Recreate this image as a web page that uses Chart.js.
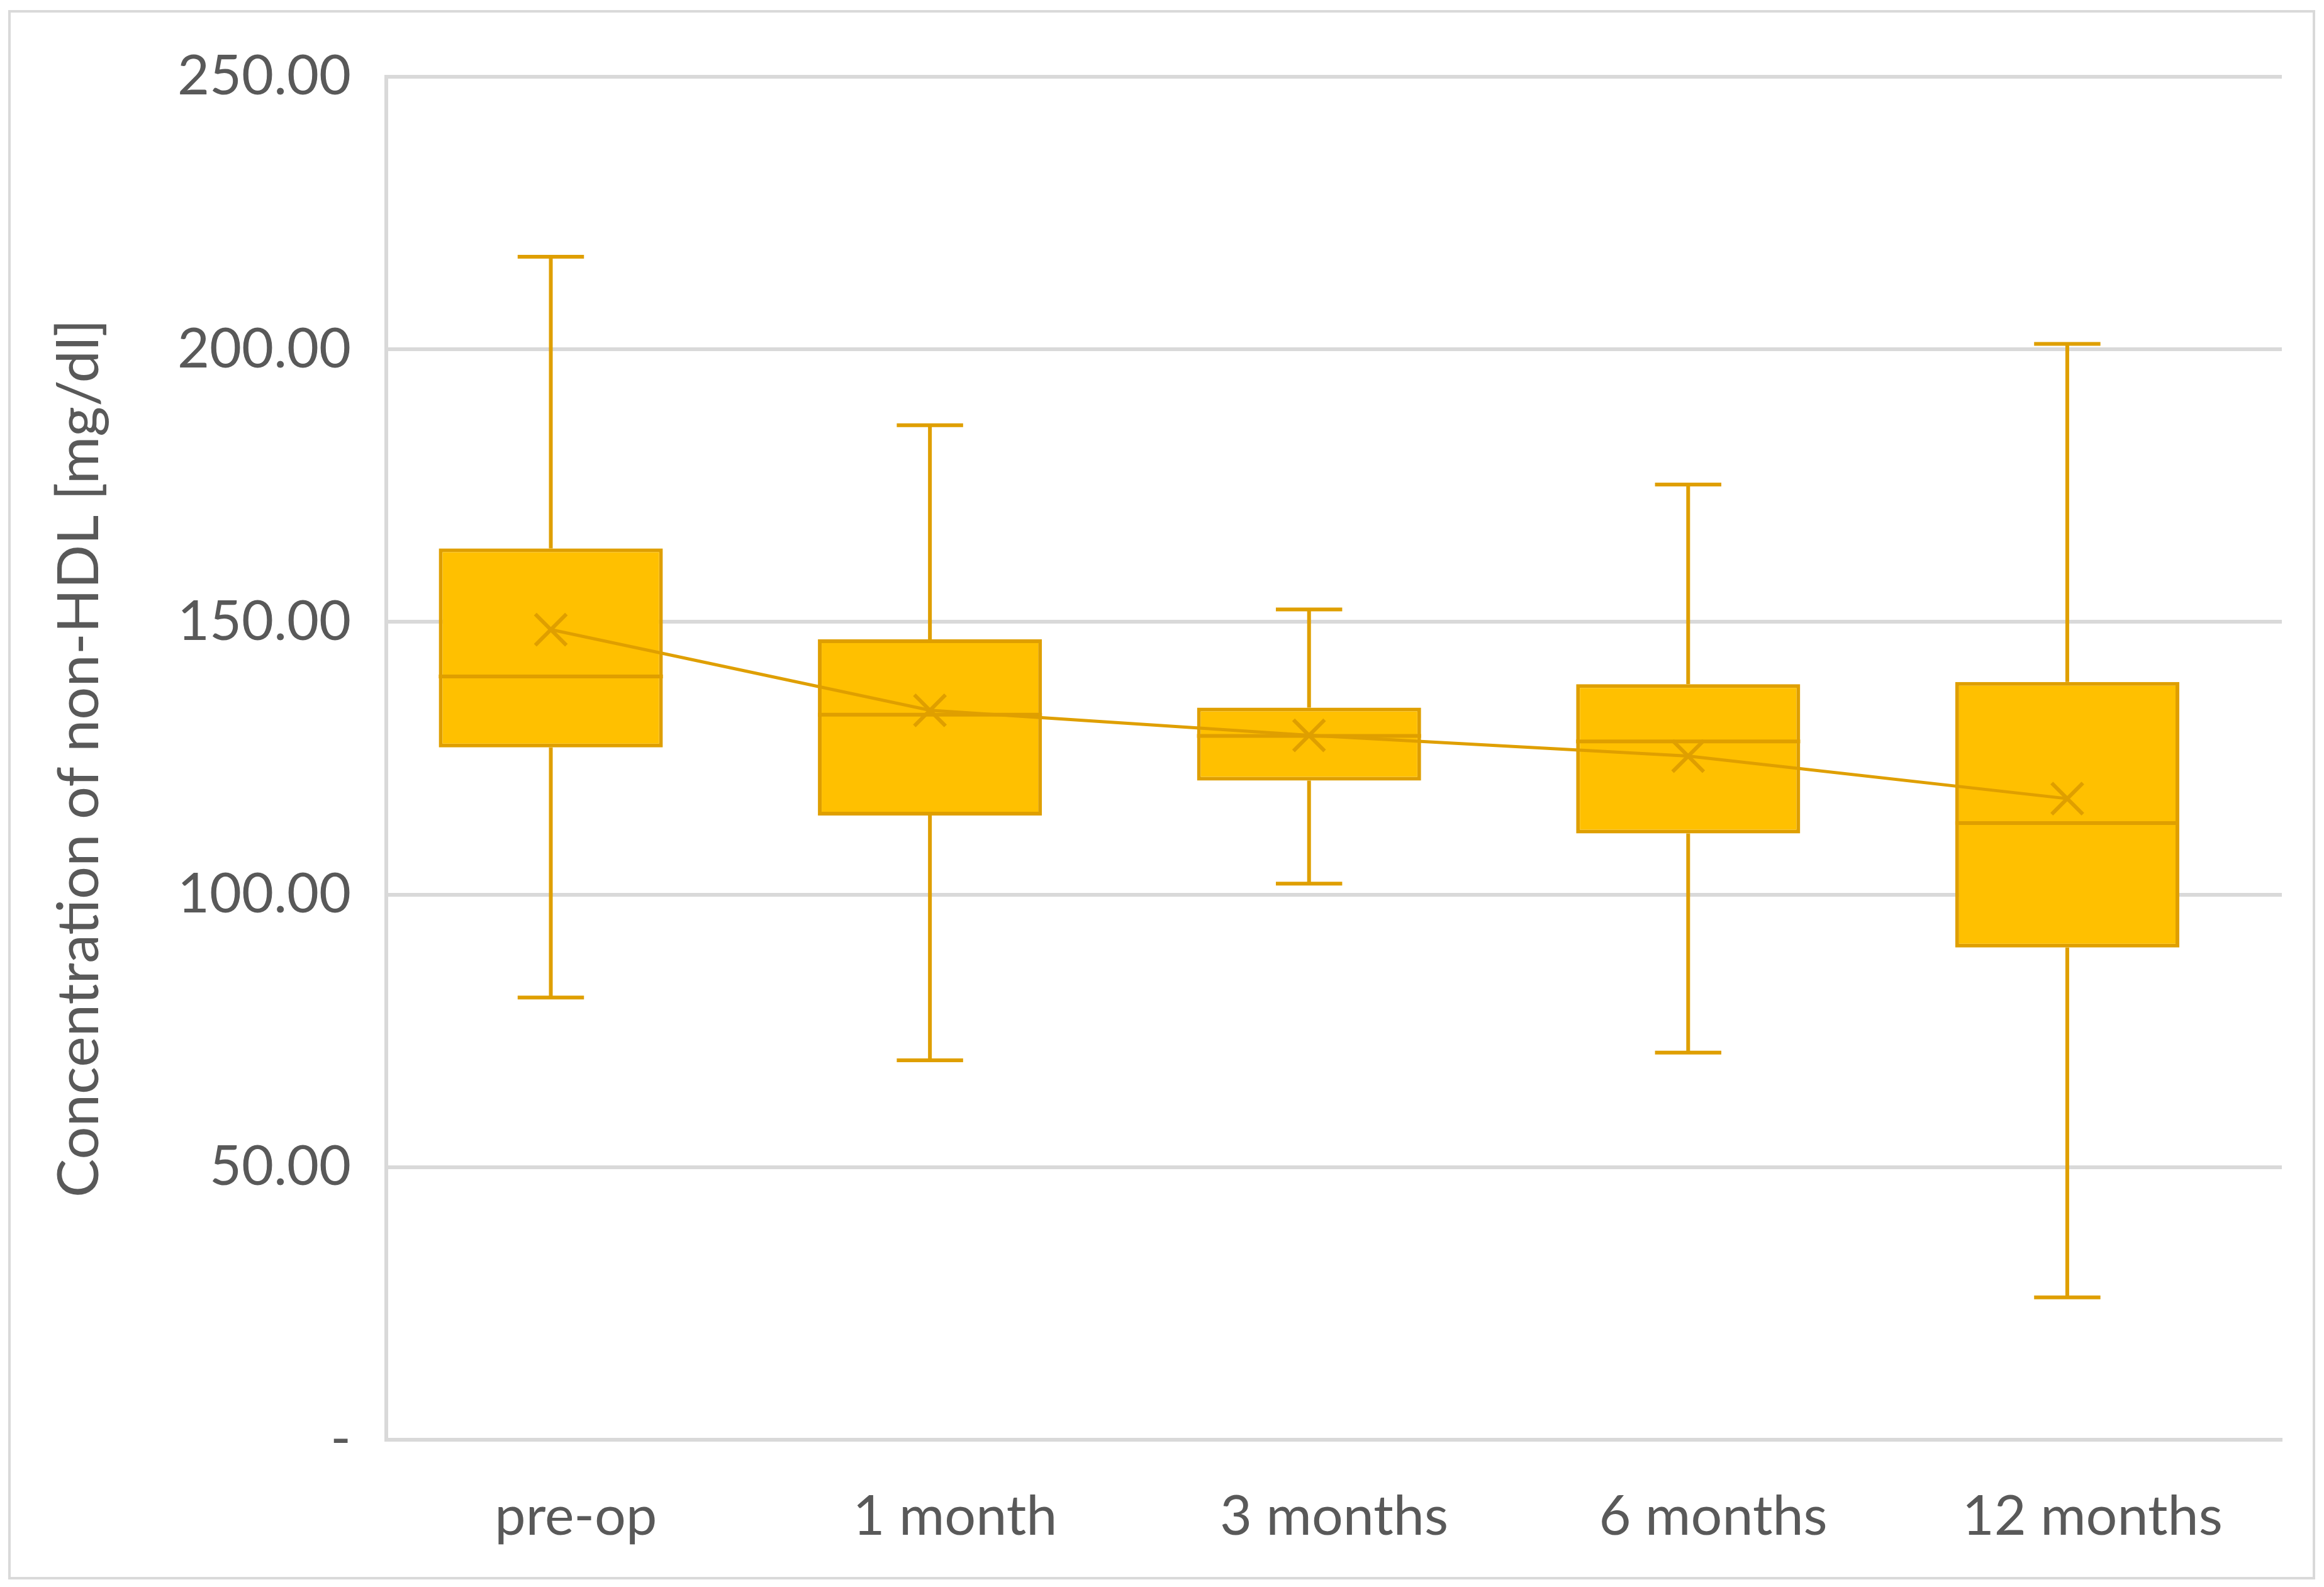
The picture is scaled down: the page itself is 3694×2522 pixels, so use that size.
<!DOCTYPE html>
<html>
<head>
<meta charset="utf-8">
<title>non-HDL box plot</title>
<script src="https://cdn.jsdelivr.net/npm/chart.js@4.4.1/dist/chart.umd.min.js"></script>
<style>
  html, body { margin: 0; padding: 0; background: #ffffff; }
  canvas { display: block; }
</style>
</head>
<body>
<canvas id="boxplot" width="3694" height="2522"></canvas>
<script>
// data (mg/dl)
const categories = ["pre-op", "1 month", "3 months", "6 months", "12 months"];
const minValues = [81.1, 69.6, 102.0, 71.0, 26.1];
const q1Values = [127.0, 114.5, 120.9, 111.2, 90.3];
const medianValues = [140.0, 133.0, 129.1, 128.1, 113.1];
const q3Values = [163.5, 146.8, 134.3, 138.6, 139.0];
const maxValues = [217.0, 186.1, 152.3, 175.2, 201.0];
const meanValues = [148.6, 133.8, 129.2, 125.4, 117.6];
const yTicks = [0, 50, 100, 150, 200, 250];

const FILL = "#FFC000";
const EDGE = "#DF9F00";
const GRID = "#D9D9D9";
const TEXT = "#595959";
const FONT = "Lato, 'Open Sans', sans-serif";
// boxes sit a little left of the category centre, as in the original
const BOX_SHIFT = 0.066;

const boxExtras = {
  id: "boxExtras",
  beforeDraw(chart) {
    const ctx = chart.ctx;
    ctx.save();
    ctx.fillStyle = "#ffffff";
    ctx.fillRect(0, 0, chart.width, chart.height);
    ctx.strokeStyle = GRID;
    ctx.lineWidth = 4;
    ctx.strokeRect(15, 18, chart.width - 31, chart.height - 32);
    ctx.restore();
  },
  afterDatasetDraw(chart, args) {
    if (args.meta.type !== "bar") return;
    const y = chart.scales.y;
    const ctx = chart.ctx;
    ctx.save();
    ctx.strokeStyle = EDGE;
    ctx.lineWidth = 6;
    ctx.lineCap = "butt";
    args.meta.data.forEach(function(bar, i) {
      const half = bar.width / 2;
      const cap = bar.width * 0.148;
      const yMax = y.getPixelForValue(maxValues[i]);
      const yMin = y.getPixelForValue(minValues[i]);
      const yQ3 = y.getPixelForValue(q3Values[i]);
      const yQ1 = y.getPixelForValue(q1Values[i]);
      const yMed = y.getPixelForValue(medianValues[i]);
      ctx.beginPath();
      ctx.moveTo(bar.x, yQ3); ctx.lineTo(bar.x, yMax);
      ctx.moveTo(bar.x - cap, yMax); ctx.lineTo(bar.x + cap, yMax);
      ctx.moveTo(bar.x, yQ1); ctx.lineTo(bar.x, yMin);
      ctx.moveTo(bar.x - cap, yMin); ctx.lineTo(bar.x + cap, yMin);
      ctx.moveTo(bar.x - half, yMed); ctx.lineTo(bar.x + half, yMed);
      ctx.stroke();
    });
    ctx.restore();
  }
};

const boxData = categories.map(function(c, i) { return { x: i, y: [q1Values[i], q3Values[i]] }; });
const meanData = categories.map(function(c, i) { return { x: i, y: meanValues[i] }; });

new Chart(document.getElementById("boxplot"), {
  type: "bar",
  data: {
    labels: categories,
    datasets: [
      {
        type: "line",
        label: "Mean",
        xAxisID: "xb",
        data: meanData,
        order: 0,
        borderColor: EDGE,
        borderWidth: 5,
        tension: 0,
        fill: false,
        pointStyle: "crossRot",
        pointRadius: 35,
        pointBorderWidth: 6,
        pointBorderColor: EDGE,
        pointBackgroundColor: "rgba(0,0,0,0)"
      },
      {
        type: "bar",
        label: "non-HDL",
        xAxisID: "xb",
        data: boxData,
        order: 1,
        backgroundColor: FILL,
        borderColor: EDGE,
        borderWidth: 6,
        borderSkipped: false,
        categoryPercentage: 0.591,
        barPercentage: 1
      }
    ]
  },
  options: {
    responsive: false,
    animation: false,
    events: [],
    layout: { padding: { left: 0, top: 122, right: 67, bottom: 0 } },
    plugins: {
      legend: { display: false },
      tooltip: { enabled: false }
    },
    scales: {
      x: {
        type: "category",
        position: "bottom",
        offset: true,
        grid: { display: false, drawTicks: false },
        border: { display: true, color: GRID, width: 6 },
        ticks: { color: TEXT, font: { family: FONT, size: 88 }, padding: 70 },
        afterFit: function(scale) { scale.height = 234; }
      },
      xb: {
        type: "linear",
        position: "bottom",
        display: false,
        offset: false,
        min: -0.5 + BOX_SHIFT,
        max: 4.5 + BOX_SHIFT,
        afterBuildTicks: function(scale) { scale.ticks = []; }
      },
      y: {
        type: "linear",
        min: 0,
        max: 250,
        afterBuildTicks: function(scale) {
          scale.ticks = yTicks.map(function(v) { return { value: v }; });
        },
        grid: { color: GRID, lineWidth: 6, drawTicks: false },
        border: { display: true, color: GRID, width: 6 },
        ticks: {
          color: TEXT,
          font: { family: FONT, size: 88 },
          padding: 56,
          callback: function(v) { return v === 0 ? "-" : v.toFixed(2); }
        },
        title: {
          display: true,
          text: "Concentration of non-HDL [mg/dl]",
          color: TEXT,
          font: { family: FONT, size: 92 },
          padding: { top: 71, bottom: 0 }
        },
        afterFit: function(scale) { scale.width = 614; }
      }
    }
  },
  plugins: [boxExtras]
});
</script>
</body>
</html>
